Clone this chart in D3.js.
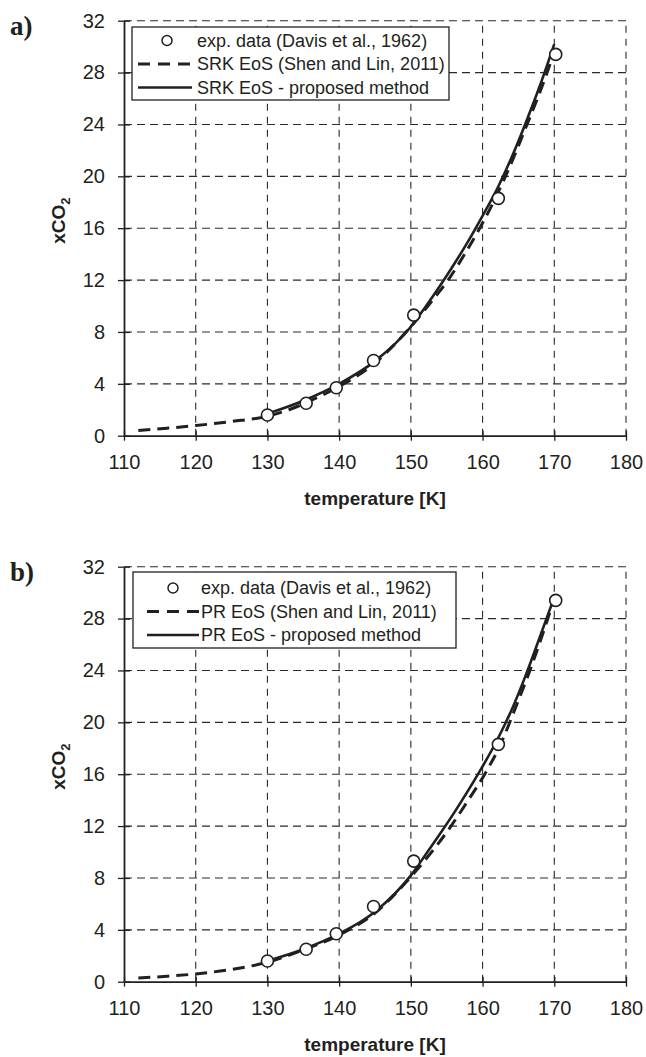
<!DOCTYPE html>
<html>
<head>
<meta charset="utf-8">
<script src="https://cdn.jsdelivr.net/npm/d3@7"></script>
<style>
  body { margin: 0; background: #fff; }
  svg { display: block; }
  text { font-family: "Liberation Sans", Arial, sans-serif; fill: #231f20; }
</style>
</head>
<body>
<svg id="chart" width="646" height="1057"></svg>
<script>
// experimental points, same in both panels
const expT = [130, 135.4, 139.6, 144.8, 150.4, 162.2, 170.2];
const expX = [1.6, 2.5, 3.7, 5.8, 9.3, 18.3, 29.4];

// panel a) SRK
const srkShenT = [112, 116, 120, 125, 130, 133, 136, 140, 145, 148, 150, 153.1, 155.2, 157.5, 159.6, 161.5, 163.2, 166.2, 169, 169.5];
const srkShenX = [0.4, 0.58, 0.78, 1.1, 1.5, 2.0, 2.7, 3.8, 5.6, 7.2, 8.4, 10.5, 12, 14, 16, 18, 20, 24, 28, 28.8];
const srkPropT = [130, 135, 140, 145, 150, 152, 154, 156, 158, 160, 162, 164, 166, 168, 170];
const srkPropX = [1.7, 2.7, 4.0, 5.75, 8.4, 9.9, 11.5, 13.2, 15.0, 16.95, 19.0, 21.4, 24.1, 27.0, 30.2];

// panel b) PR
const prShenT = [112, 116, 120, 125, 130, 135, 140, 145, 150, 155.6, 158, 160.3, 162.5, 164.5, 166.6, 169.1, 169.8];
const prShenX = [0.28, 0.42, 0.6, 0.95, 1.5, 2.45, 3.6, 5.3, 8.1, 12, 14, 16, 18.3, 21, 24, 28, 29.2];
const prPropT = [130, 135, 140, 145, 150, 152, 154, 156, 158, 160, 162, 164, 166, 168, 169.9];
const prPropX = [1.6, 2.5, 3.7, 5.4, 8.2, 9.75, 11.35, 13.0, 14.75, 16.6, 18.6, 20.9, 23.6, 26.6, 29.5];

const xTicks = [110, 120, 130, 140, 150, 160, 170, 180];
const yTicks = [0, 4, 8, 12, 16, 20, 24, 28, 32];

const legendA = ["exp. data (Davis et al., 1962)", "SRK EoS (Shen and Lin, 2011)", "SRK EoS - proposed method"];
const legendB = ["exp. data (Davis et al., 1962)", "PR EoS (Shen and Lin, 2011)", "PR EoS - proposed method"];

const svg = d3.select("#chart");

function zip(ts, xs) {
  return ts.map((t, i) => ({ t: t, x: xs[i] }));
}

function drawPanel(cfg) {
  const x = d3.scaleLinear().domain([110, 180]).range([124, 626]);
  const y = d3.scaleLinear().domain([0, 32]).range([cfg.top + 415, cfg.top]);
  const g = svg.append("g");

  // dashed grid
  g.selectAll("line.hgrid")
    .data(yTicks.slice(1))
    .enter().append("line")
    .attr("class", "hgrid")
    .attr("x1", x(110)).attr("x2", x(180))
    .attr("y1", d => y(d)).attr("y2", d => y(d))
    .attr("stroke", "#2a2a2a").attr("stroke-width", 1.1)
    .attr("stroke-dasharray", "8,5");

  g.selectAll("line.vgrid")
    .data(xTicks.slice(1))
    .enter().append("line")
    .attr("class", "vgrid")
    .attr("x1", d => x(d)).attr("x2", d => x(d))
    .attr("y1", y(0)).attr("y2", y(32))
    .attr("stroke", "#2a2a2a").attr("stroke-width", 1.1)
    .attr("stroke-dasharray", "7,6");

  // axes
  const xAxis = d3.axisBottom(x).tickValues(xTicks).tickSizeInner(5).tickSizeOuter(0).tickPadding(14);
  const yAxis = d3.axisLeft(y).tickValues(yTicks).tickSizeInner(6).tickSizeOuter(0).tickPadding(13);

  const gx = g.append("g").attr("transform", "translate(0," + y(0) + ")").call(xAxis);
  const gy = g.append("g").attr("transform", "translate(" + x(110) + ",0)").call(yAxis);
  [gx, gy].forEach(a => {
    a.select(".domain").attr("stroke", "#231f20").attr("stroke-width", 1.8);
    a.selectAll(".tick line").attr("stroke", "#231f20").attr("stroke-width", 1.3);
    a.selectAll(".tick text").attr("font-size", 20).attr("fill", "#231f20");
  });
  // ticks cross the axis
  gx.selectAll(".tick line").attr("y1", -5);
  gy.selectAll(".tick line").attr("x1", 6);
  gx.selectAll(".tick text").attr("dy", "0.71em");

  const line = d3.line()
    .x(d => x(d.t))
    .y(d => y(d.x))
    .curve(d3.curveMonotoneX);

  g.append("path")
    .datum(zip(cfg.shenT, cfg.shenX))
    .attr("d", line)
    .attr("fill", "none")
    .attr("stroke", "#231f20")
    .attr("stroke-width", 3)
    .attr("stroke-dasharray", "12,7");

  g.append("path")
    .datum(zip(cfg.propT, cfg.propX))
    .attr("d", line)
    .attr("fill", "none")
    .attr("stroke", "#231f20")
    .attr("stroke-width", 2.6);

  g.selectAll("circle.exp")
    .data(zip(expT, expX))
    .enter().append("circle")
    .attr("class", "exp")
    .attr("cx", d => x(d.t))
    .attr("cy", d => y(d.x))
    .attr("r", 6)
    .attr("fill", "#fff")
    .attr("stroke", "#231f20")
    .attr("stroke-width", 1.6);

  // legend
  const lg = g.append("g");
  lg.append("rect")
    .attr("x", cfg.leg.x).attr("y", cfg.leg.y)
    .attr("width", cfg.leg.w).attr("height", cfg.leg.h)
    .attr("fill", "#fff").attr("stroke", "#231f20").attr("stroke-width", 1.3);

  lg.selectAll("text")
    .data(cfg.labels)
    .enter().append("text")
    .attr("x", cfg.leg.tx)
    .attr("y", (d, i) => cfg.leg.row0 + i * 23.5)
    .attr("dy", "0.35em")
    .attr("font-size", 18)
    .text(d => d);

  lg.append("circle")
    .attr("cx", cfg.leg.cx).attr("cy", cfg.leg.row0)
    .attr("r", 5).attr("fill", "#fff")
    .attr("stroke", "#231f20").attr("stroke-width", 1.5);
  lg.append("line")
    .attr("x1", cfg.leg.l1).attr("x2", cfg.leg.l2)
    .attr("y1", cfg.leg.row0 + 23.5).attr("y2", cfg.leg.row0 + 23.5)
    .attr("stroke", "#231f20").attr("stroke-width", 3)
    .attr("stroke-dasharray", "12,8");
  lg.append("line")
    .attr("x1", cfg.leg.l1).attr("x2", cfg.leg.l2)
    .attr("y1", cfg.leg.row0 + 47).attr("y2", cfg.leg.row0 + 47)
    .attr("stroke", "#231f20").attr("stroke-width", 2.6);

  // titles
  g.append("text")
    .attr("x", (x(110) + x(180)) / 2)
    .attr("y", cfg.top + 484)
    .attr("text-anchor", "middle")
    .attr("font-size", 19)
    .attr("font-weight", "bold")
    .text("temperature [K]");

  const yt = g.append("text")
    .attr("transform", "translate(65," + (cfg.top + 200) + ") rotate(-90)")
    .attr("text-anchor", "middle")
    .attr("font-size", 19)
    .attr("font-weight", "bold");
  yt.append("tspan").text("xCO");
  yt.append("tspan").attr("font-size", 13).attr("dy", 5).text("2");

  // panel letter, serif like the original
  g.append("text")
    .attr("x", 10)
    .attr("y", cfg.top + 14)
    .style("font-family", "'Liberation Serif', 'Times New Roman', serif")
    .attr("font-size", 27)
    .attr("font-weight", "bold")
    .text(cfg.name);
}

drawPanel({
  top: 20.7, name: "a)",
  shenT: srkShenT, shenX: srkShenX, propT: srkPropT, propX: srkPropX,
  labels: legendA,
  leg: { x: 132, y: 27, w: 317, h: 73, tx: 197, cx: 167, l1: 138, l2: 192, row0: 40.5 }
});

drawPanel({
  top: 566.7, name: "b)",
  shenT: prShenT, shenX: prShenX, propT: prPropT, propX: prPropX,
  labels: legendB,
  leg: { x: 133, y: 572, w: 323, h: 76, tx: 201, cx: 173, l1: 147, l2: 199, row0: 588 }
});
</script>
</body>
</html>
